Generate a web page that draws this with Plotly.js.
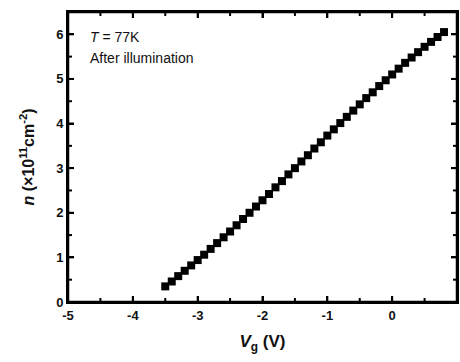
<!DOCTYPE html>
<html>
<head>
<meta charset="utf-8">
<script src="https://cdn.plot.ly/plotly-3.0.1.min.js"></script>
<style>html,body{margin:0;padding:0;background:#fff;}#chart{width:460px;height:362px;}</style>
</head>
<body>
<div id="chart"></div>
<script>
// Gate voltage (V)
const vg = [-3.5,-3.4,-3.3,-3.2,-3.1,-3.0,-2.9,-2.8,-2.7,-2.6,-2.5,-2.4,-2.3,-2.2,-2.1,-2.0,-1.9,-1.8,-1.7,-1.6,-1.5,-1.4,-1.3,-1.2,-1.1,-1.0,-0.9,-0.8,-0.7,-0.6,-0.5,-0.4,-0.3,-0.2,-0.1,0.0,0.1,0.2,0.3,0.4,0.5,0.6,0.7,0.8];
// Carrier density n (x10^11 cm^-2)
const nDensity = [0.35,0.46,0.58,0.70,0.82,0.94,1.06,1.19,1.32,1.45,1.58,1.72,1.86,2.00,2.14,2.28,2.42,2.57,2.71,2.86,3.00,3.15,3.29,3.44,3.58,3.73,3.87,4.01,4.15,4.29,4.43,4.57,4.70,4.84,4.97,5.10,5.23,5.36,5.48,5.60,5.72,5.83,5.94,6.05];
const xTickVals = [-5,-4,-3,-2,-1,0,1];
const xTickLabels = ['-5','-4','-3','-2','-1','0','1'];
const xMinorVals = [-4.5,-3.5,-2.5,-1.5,-0.5,0.5];
const yTickVals = [0,1,2,3,4,5,6];
const yTickLabels = ['0','1','2','3','4','5','6'];
const yMinorVals = [0.5,1.5,2.5,3.5,4.5,5.5];

const fontFam = 'Arial, Liberation Sans, sans-serif';
const bold = s => '<b>' + s + '</b>';

const trace = {
  x: vg, y: nDensity, type: 'scatter', mode: 'markers',
  marker: {symbol: 'square', size: 8, color: '#000', line: {width: 0}},
  hoverinfo: 'skip', cliponaxis: false
};

const axisCommon = {
  showline: true, linecolor: '#000', linewidth: 2, mirror: 'allticks',
  ticks: 'inside', ticklen: 6, tickwidth: 2, tickcolor: '#000',
  showgrid: false, zeroline: false,
  tickfont: {family: fontFam, size: 13, color: '#111', weight: 'bold'}
};

// plot-area size in px (for tick lengths as paper fractions)
const W = 460 - 68 - 3, H = 362 - 12 - 60;
const majLen = 6, minLen = 4;
const tickShapes = [];
const tickLine = {color: '#000', width: 2};
function xTick(v, len) {
  tickShapes.push({type: 'line', xref: 'x', yref: 'paper', x0: v, x1: v, y0: 0, y1: len / H, line: tickLine, layer: 'above'});
  tickShapes.push({type: 'line', xref: 'x', yref: 'paper', x0: v, x1: v, y0: 1, y1: 1 - len / H, line: tickLine, layer: 'above'});
}
function yTick(v, len) {
  tickShapes.push({type: 'line', xref: 'paper', yref: 'y', y0: v, y1: v, x0: 0, x1: len / W, line: tickLine, layer: 'above'});
  tickShapes.push({type: 'line', xref: 'paper', yref: 'y', y0: v, y1: v, x0: 1, x1: 1 - len / W, line: tickLine, layer: 'above'});
}
xTickVals.forEach(v => xTick(v, majLen));
xMinorVals.forEach(v => xTick(v, minLen));
yTickVals.forEach(v => yTick(v, majLen));
yMinorVals.forEach(v => yTick(v, minLen));

const layout = {
  width: 460, height: 362,
  margin: {l: 68, r: 3, t: 12, b: 60},
  paper_bgcolor: '#fff', plot_bgcolor: 'rgba(0,0,0,0)',
  showlegend: false,
  xaxis: Object.assign({}, axisCommon, {
    range: [-5, 1], tickmode: 'array', tickvals: xTickVals, ticktext: xTickLabels.map(bold),
    title: {text: bold('<i>V</i><sub>g</sub> (V)'), font: {family: fontFam, size: 17, color: '#111', weight: 'bold'}, standoff: 14}
  }),
  yaxis: Object.assign({}, axisCommon, {
    range: [0, 6.5], tickmode: 'array', tickvals: yTickVals, ticktext: yTickLabels.map(bold),
    title: {text: bold('<i>n</i> (×10<sup>11</sup>cm<sup>-2</sup>)'), font: {family: fontFam, size: 16, color: '#111', weight: 'bold'}, standoff: 18}
  }),
  shapes: [
    {type: 'rect', xref: 'paper', yref: 'paper', x0: 0, x1: 1, y0: 0, y1: 1, line: {color: '#000', width: 2.5}, layer: 'above'}
  ].concat(tickShapes),
  annotations: [
    {xref: 'paper', yref: 'paper', x: 0.052, y: 0.914, xanchor: 'left', yanchor: 'middle', showarrow: false,
     text: '<i>T</i> = 77K', font: {family: fontFam, size: 14, color: '#111'}},
    {xref: 'paper', yref: 'paper', x: 0.052, y: 0.841, xanchor: 'left', yanchor: 'middle', showarrow: false,
     text: 'After illumination', font: {family: fontFam, size: 14, color: '#111'}}
  ]
};

Plotly.newPlot('chart', [trace], layout, {displayModeBar: false, staticPlot: true});
</script>
</body>
</html>
